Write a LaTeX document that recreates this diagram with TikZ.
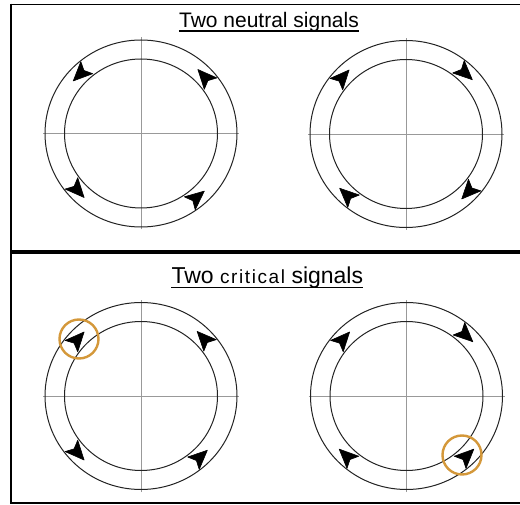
\documentclass[tikz,border=0pt]{standalone}
\usepackage{fontspec}
\setmainfont{Liberation Sans}
\definecolor{ringcol}{RGB}{35,35,35}
\definecolor{markcol}{RGB}{212,152,58}
\tikzset{
  ringline/.style={line width=1pt, draw=ringcol},
  crossline/.style={line width=0.7pt, draw=black!40},
  frameline/.style={line width=2pt, draw=black},
  flowhead/.style={fill=black, draw=black, line width=0.6pt, line join=round},
  hilite/.style={line width=2.4pt, draw=markcol},
  titletext/.style={inner sep=0pt, anchor=base},
  uline/.style={line width=1.4pt, draw=black},
}
\newcommand\dial[3]{%
  \draw[crossline] ({#1-98},#2) -- ({#1+98},#2);
  \draw[crossline] (#1,{#2-96}) -- (#1,{#2+96});
  \draw[ringline] (#1,#2) ellipse [x radius=96, y radius=93.5];
  \draw[ringline] (#1,#2) ellipse [x radius=76.5, y radius=74.5];
  \foreach \a/\d in {#3}{
    \filldraw[flowhead, shift={({#1+86*cos(\a)},{#2+84*sin(\a)})}, rotate={\a+90*\d}]
      (10.5,0) -- (-8.5,8.5) -- (-4.5,0) -- (-8.5,-8.5) -- cycle;
  }%
}
\begin{document}
\begin{tikzpicture}[x=1pt,y=1pt]
\useasboundingbox (0,0) rectangle (520,504);
% frame
\draw[line width=1.5pt] (11,499.7) -- (520,499.7);
\draw[line width=4.5pt] (11,252.2) -- (520,252.2);
\draw[frameline] (11,500.4) -- (11,1.3) -- (520,1.3);
% titles
\node[titletext, font=\fontsize{21}{24}\selectfont] (t1) at (269,476.5) {Two neutral signals};
\draw[uline] ([yshift=-3.5pt]t1.base west) -- ([yshift=-3.5pt]t1.base east);
\node[titletext] (t2) at (267.3,220) {\fontsize{23}{26}\selectfont Two {\fontsize{19}{22}\selectfont c\kern1.6pt r\kern1.6pt i\kern1.6pt t\kern1.6pt i\kern1.6pt c\kern1.6pt a\kern1.6pt l} signals};
\draw[uline] ([yshift=-3.5pt]t2.base west) -- ([yshift=-3.5pt]t2.base east);
% dials
\dial{141}{370.5}{134.5/1, 42/1, 222/1, 310/1}
\dial{406}{370}{138/-1, 47/-1, 317/-1, 227/-1}
\dial{141}{108}{138/-1, 42.6/1, 222/1, 313/1}
\dial{406.5}{108}{138/-1, 47/-1, 226/-1, 314/1}
% highlights
\draw[hilite] (79,165) circle [radius=19.5];
\draw[hilite] (462,49) circle [radius=19.5];
\end{tikzpicture}
\end{document}
